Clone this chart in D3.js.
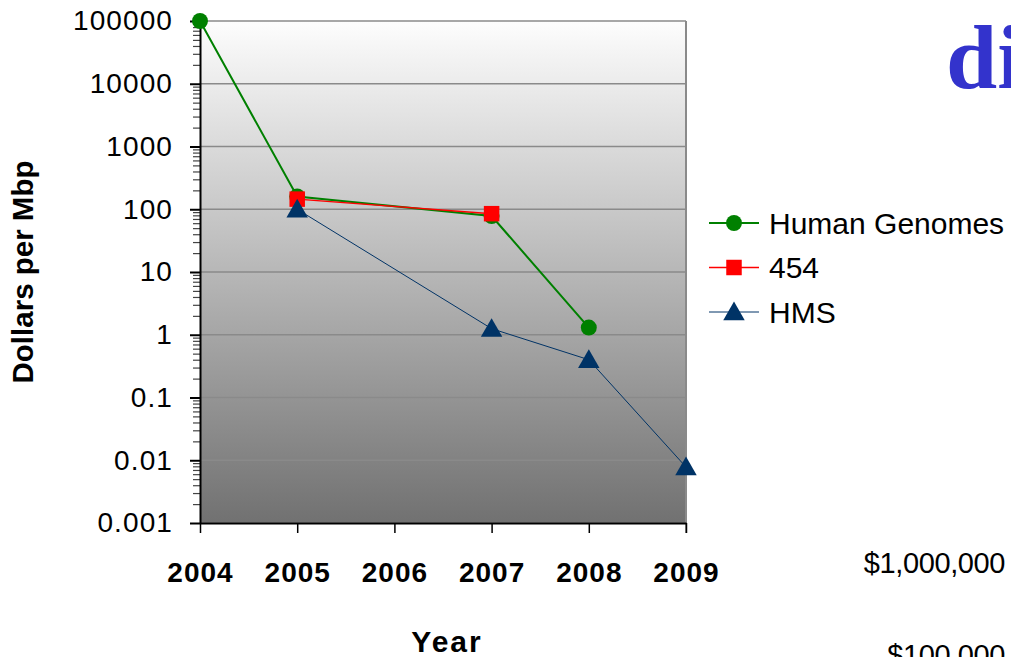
<!DOCTYPE html>
<html>
<head>
<meta charset="utf-8">
<script src="https://cdn.jsdelivr.net/npm/d3@7"></script>
<style>
  body { margin: 0; background: #fff; }
  svg { display: block; font-family: "Liberation Sans", Arial, sans-serif; }
</style>
</head>
<body>
<div id="chart"></div>
<script>
const years = ['2004', '2005', '2006', '2007', '2008', '2009'];
const humanGenomes = [100000, 160, null, 78, 1.3, null];
const roche454 = [null, 145, null, 85, null, null];
const hms = [null, 100, null, 1.25, 0.4, 0.0078];
const yTicks = [100000, 10000, 1000, 100, 10, 1, 0.1, 0.01, 0.001];
const yTickLabels = ['100000', '10000', '1000', '100', '10', '1', '0.1', '0.01', '0.001'];

const series = [
  { name: 'Human Genomes', values: humanGenomes, color: '#008000', width: 2, marker: 'circle' },
  { name: '454', values: roche454, color: '#ff0000', width: 1.5, marker: 'square' },
  { name: 'HMS', values: hms, color: '#003366', width: 1, marker: 'triangle' },
];

const width = 1011;
const height = 657;
const margins = { top: 21, right: 325, bottom: 134, left: 200 };

const svg = d3.select('#chart').append('svg')
  .attr('width', width)
  .attr('height', height);

const x = d3.scalePoint()
  .domain(years)
  .range([margins.left, width - margins.right]);

const y = d3.scaleLog()
  .domain([0.001, 100000])
  .range([height - margins.bottom, margins.top]);

// plot background
const grad = svg.append('defs').append('linearGradient')
  .attr('id', 'bg')
  .attr('x1', 0).attr('y1', 0).attr('x2', 0).attr('y2', 1);
grad.append('stop').attr('offset', '0%').attr('stop-color', '#fdfdfd');
grad.append('stop').attr('offset', '100%').attr('stop-color', '#717171');

svg.append('rect')
  .attr('x', margins.left)
  .attr('y', margins.top)
  .attr('width', x.range()[1] - margins.left)
  .attr('height', y.range()[0] - margins.top)
  .attr('fill', 'url(#bg)');

// gridlines
svg.append('g')
  .selectAll('line')
  .data(yTicks)
  .join('line')
  .attr('x1', margins.left)
  .attr('x2', x.range()[1])
  .attr('y1', d => y(d))
  .attr('y2', d => y(d))
  .attr('stroke', '#8a8a8a')
  .attr('stroke-width', 1.5);

svg.append('line')
  .attr('x1', x.range()[1]).attr('x2', x.range()[1])
  .attr('y1', margins.top).attr('y2', y.range()[0] + 10)
  .attr('stroke', '#8a8a8a')
  .attr('stroke-width', 2);

// minor y ticks
const minorTicks = [];
for (let e = -3; e < 5; e++) {
  for (let k = 2; k <= 9; k++) minorTicks.push(k * Math.pow(10, e));
}

svg.append('g')
  .attr('transform', `translate(${margins.left},0)`)
  .call(d3.axisLeft(y).tickValues(minorTicks).tickSize(7).tickFormat(''))
  .call(g => g.select('.domain').remove())
  .call(g => g.selectAll('line').attr('stroke', '#444').attr('stroke-width', 1.2));

// major y axis
const yAxis = svg.append('g')
  .attr('transform', `translate(${margins.left},0)`)
  .call(d3.axisLeft(y)
    .tickValues(yTicks)
    .tickSize(10)
    .tickPadding(17)
    .tickSizeOuter(0)
    .tickFormat((d, i) => yTickLabels[i]));
yAxis.select('.domain').attr('stroke', '#000').attr('stroke-width', 2);
yAxis.selectAll('line').attr('stroke', '#000').attr('stroke-width', 2);
yAxis.selectAll('text')
  .attr('font-size', 28)
  .attr('letter-spacing', 1.1)
  .attr('font-family', '"Liberation Sans", Arial, sans-serif')
  .attr('fill', '#000');

// x axis
const xAxis = svg.append('g')
  .attr('transform', `translate(0,${y.range()[0]})`)
  .call(d3.axisBottom(x).tickSize(10).tickPadding(29).tickSizeOuter(0));
xAxis.select('.domain').attr('stroke', '#000').attr('stroke-width', 2);
xAxis.selectAll('line').attr('stroke', '#000').attr('stroke-width', 1.5);
xAxis.selectAll('text')
  .attr('font-size', 28)
  .attr('font-weight', 'bold')
  .attr('letter-spacing', 1)
  .attr('font-family', '"Liberation Sans", Arial, sans-serif')
  .attr('fill', '#000');

// axis titles
svg.append('text')
  .attr('transform', `translate(33,${(margins.top + y.range()[0]) / 2}) rotate(-90)`)
  .attr('text-anchor', 'middle')
  .attr('font-size', 29.5)
  .attr('font-weight', 'bold')
  .text('Dollars per Mbp');

svg.append('text')
  .attr('x', (margins.left + x.range()[1]) / 2 + 4)
  .attr('y', 652)
  .attr('text-anchor', 'middle')
  .attr('font-size', 30)
  .attr('font-weight', 'bold')
  .attr('letter-spacing', 2)
  .text('Year');

// marker shapes
const symbolFor = {
  circle: d3.symbol(d3.symbolCircle, 200),
  square: d3.symbol(d3.symbolSquare, 240),
  triangle: d3.symbol(d3.symbolTriangle, 200),
};

const line = d3.line()
  .x(d => x(d.year))
  .y(d => y(d.value));

series.forEach(s => {
  const pts = years
    .map((year, i) => ({ year, value: s.values[i] }))
    .filter(d => d.value != null);

  svg.append('path')
    .datum(pts)
    .attr('fill', 'none')
    .attr('stroke', s.color)
    .attr('stroke-width', s.width)
    .attr('d', line);

  svg.append('g')
    .selectAll('path')
    .data(pts)
    .join('path')
    .attr('transform', d => `translate(${x(d.year)},${y(d.value) + (s.marker === 'triangle' ? 2 : 0)})`)
    .attr('d', symbolFor[s.marker])
    .attr('fill', s.color);
});

// legend
const legend = svg.append('g').attr('transform', 'translate(709,223)');
series.forEach((s, i) => {
  const row = legend.append('g').attr('transform', `translate(0,${i * 44.5})`);
  row.append('line')
    .attr('x1', 0).attr('x2', 50)
    .attr('stroke', s.color)
    .attr('stroke-width', s.width);
  row.append('path')
    .attr('transform', `translate(25,${s.marker === 'triangle' ? 2 : 0})`)
    .attr('d', symbolFor[s.marker])
    .attr('fill', s.color);
  row.append('text')
    .attr('x', 60)
    .attr('y', 10.5)
    .attr('font-size', 30)
    .attr('fill', '#000')
    .text(s.name);
});

// surrounding slide text
svg.append('text')
  .attr('x', 946)
  .attr('y', 88)
  .attr('font-family', '"Liberation Serif", "Times New Roman", serif')
  .attr('font-size', 92)
  .attr('font-weight', 'bold')
  .attr('fill', '#3333cc')
  .text('di');

svg.append('text')
  .attr('x', 1005)
  .attr('y', 573)
  .attr('text-anchor', 'end')
  .attr('font-size', 29)
  .attr('letter-spacing', -0.4)
  .attr('fill', '#000')
  .text('$1,000,000');

svg.append('text')
  .attr('x', 1005)
  .attr('y', 665)
  .attr('text-anchor', 'end')
  .attr('font-size', 29)
  .attr('letter-spacing', -0.4)
  .attr('fill', '#000')
  .text('$100,000');
</script>
</body>
</html>
